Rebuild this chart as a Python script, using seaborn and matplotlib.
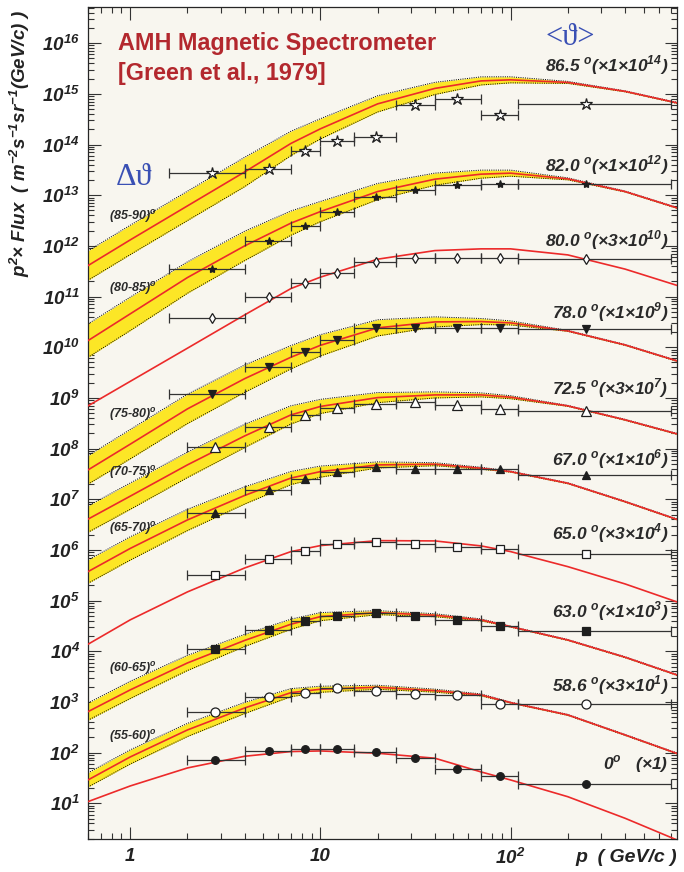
import numpy as np
import matplotlib
matplotlib.use("Agg")
import matplotlib.pyplot as plt
import matplotlib.ticker as mticker
import seaborn as sns

# measured bins (GeV/c)
p_center = [2.8, 5.4, 8.3, 12.3, 19.7, 31.6, 52.0, 88.0, 250.0]
p_low = [2.0, 4.0, 7.0, 10.0, 15.0, 25.0, 40.0, 70.0, 110.0]
p_high = [4.0, 7.0, 10.0, 15.0, 25.0, 40.0, 70.0, 110.0, 700.0]
# most inclined angles: first bin starts lower
p_center_incl = [2.7, 5.4, 8.3, 12.3, 19.7, 31.6, 52.0, 88.0, 250.0]
p_low_incl = [1.6, 4.0, 7.0, 10.0, 15.0, 25.0, 40.0, 70.0, 110.0]

# p^2 x flux, unscaled
flux_865 = [0.275, 0.331, 0.759, 1.175, 1.38, 6.03, 7.94, 3.76, 6.31]
flux_820 = [0.352, 1.25, 2.48, 4.68, 9.18, 12.9, 15.8, 16.5, 16.7]
flux_800 = [1.25, 3.24, 6.21, 9.62, 15.9, 18.8, 19.1, 19.1, 18.5]
flux_780 = [1.18, 4.15, 8.20, 13.9, 23.7, 23.7, 23.7, 23.7, 22.6]
flux_725 = [3.65, 8.79, 15.6, 20.8, 25.3, 28.1, 24.2, 20.1, 18.6]
flux_670 = [5.37, 15.1, 24.8, 34.1, 44.1, 39.8, 39.3, 39.3, 30.2]
flux_650 = [10.5, 21.8, 32.4, 43.2, 48.6, 43.8, 38.8, 35.5, 27.4]
flux_630 = [11.1, 26.4, 39.8, 50.6, 57.9, 50.6, 41.6, 32.1, 25.1]
flux_586 = [21.5, 42.5, 50.9, 64.0, 55.7, 46.9, 45.8, 30.1, 30.4]
flux_000 = [71.6, 108.0, 117.5, 119.0, 104.7, 77.6, 47.0, 35.2, 23.8]

# model prediction, read at these momenta
p_model = [0.6, 1, 2, 4, 7, 10, 20, 40, 70, 100, 200, 400, 750]
model_865 = [0.00408, 0.0131, 0.0615, 0.288, 1.05, 2.04, 6.34, 12.8, 18.0, 18.9, 16.8, 11.2, 6.64]
model_820 = [0.0135, 0.0455, 0.237, 1.0, 2.81, 4.75, 11.8, 20.7, 26.0, 27.2, 21.0, 11.8, 5.62]
model_800 = [0.0232, 0.0706, 0.319, 1.45, 4.79, 8.04, 18.2, 26.9, 29.1, 29.1, 22.1, 11.6, 5.53]
model_780 = [0.0379, 0.122, 0.607, 2.40, 6.35, 10.9, 24.1, 31.6, 32.1, 30.2, 21.0, 11.1, 5.37]
model_725 = [0.135, 0.383, 1.59, 5.93, 15.4, 22.6, 33.8, 38.2, 38.2, 34.4, 23.2, 12.3, 6.50]
model_670 = [0.373, 1.07, 3.91, 11.9, 26.2, 35.1, 47.6, 49.2, 40.9, 35.1, 20.7, 8.97, 4.0]
model_650 = [0.459, 1.39, 4.95, 14.7, 30.9, 40.6, 50.9, 50.2, 40.0, 30.9, 15.6, 7.11, 3.14]
model_630 = [0.644, 1.73, 5.89, 16.4, 34.2, 48.3, 57.9, 51.5, 41.6, 30.7, 16.7, 7.64, 3.41]
model_586 = [0.964, 2.74, 9.35, 25.4, 50.9, 59.4, 65.0, 55.7, 45.9, 32.4, 18.5, 7.45, 3.21]
model_000 = [10.8, 22.0, 49.9, 84.9, 105.0, 108.0, 97.3, 77.6, 41.6, 28.9, 13.5, 5.07, 1.89]

# half width of the angular-bin band (decades)
band_865 = [0.29, 0.29, 0.29, 0.29, 0.24, 0.20, 0.16, 0.12, 0.08, 0.06, 0.02, 0.01, 0.01]
band_820 = [0.33, 0.33, 0.31, 0.29, 0.24, 0.20, 0.16, 0.12, 0.08, 0.06, 0.02, 0.01, 0.01]
band_780 = [0.28, 0.29, 0.29, 0.27, 0.23, 0.21, 0.16, 0.10, 0.06, 0.04, 0.01, 0.01, 0.01]
band_725 = [0.26, 0.26, 0.25, 0.23, 0.18, 0.14, 0.10, 0.06, 0.04, 0.03, 0.01, 0.01, 0.01]
band_670 = [0.23, 0.23, 0.21, 0.17, 0.13, 0.11, 0.06, 0.03, 0.02, 0.01, 0.01, 0.01, 0.01]
band_630 = [0.17, 0.17, 0.15, 0.12, 0.10, 0.08, 0.04, 0.03, 0.02, 0.01, 0.01, 0.01, 0.01]
band_586 = [0.14, 0.14, 0.13, 0.11, 0.08, 0.06, 0.04, 0.03, 0.02, 0.01, 0.01, 0.01, 0.01]

angles = ["86.5", "82.0", "80.0", "78.0", "72.5", "67.0", "65.0", "63.0", "58.6", "0"]
scale_mant = [1, 1, 3, 1, 3, 1, 3, 1, 3, 1]
scale_exp = [14, 12, 10, 9, 7, 6, 4, 3, 1, 0]
bin_labels = ["(85-90)", "(80-85)", None, "(75-80)", "(70-75)", "(65-70)", None, "(60-65)", "(55-60)", None]

fluxes = [flux_865, flux_820, flux_800, flux_780, flux_725, flux_670, flux_650, flux_630, flux_586, flux_000]
models = [model_865, model_820, model_800, model_780, model_725, model_670, model_650, model_630, model_586, model_000]
bands = [band_865, band_820, None, band_780, band_725, band_670, None, band_630, band_586, None]

# marker, size, filled
markers = [("*", 9, False), ("*", 6, True), ("d", 5.5, False), ("v", 5.5, True), ("^", 6.5, False),
           ("^", 5.5, True), ("s", 6, False), ("s", 6, True), ("o", 6.5, False), ("o", 5.5, True)]
# label positions (axes fraction)
angle_label_y = [0.931, 0.810, 0.720, 0.634, 0.542, 0.457, 0.368, 0.274, 0.185, 0.090]
bin_label_y = [0.748, 0.662, None, 0.510, 0.441, 0.374, None, 0.205, 0.123, None]

sns.set_style("ticks")
plt.rcParams["font.family"] = ["Liberation Sans", "DejaVu Sans"]
plt.rcParams["font.weight"] = "bold"
plt.rcParams["font.style"] = "italic"
plt.rcParams["axes.linewidth"] = 0.9

red = "#EC2A2A"
yellow = "#FCE626"
ink = "#1E1E1E"

fig = plt.figure(figsize=(6.84, 8.72), dpi=100)
ax = fig.add_axes([88 / 684, 1 - 839.3 / 872, 589 / 684, 832 / 872])
ax.set_facecolor("#F8F6EF")
ax.set_xscale("log")
ax.set_yscale("log")

for i in range(len(angles)):
    scale = scale_mant[i] * 10.0 ** scale_exp[i]
    model = np.array(models[i]) * scale
    if bands[i] is not None:
        w = 10.0 ** np.array(bands[i])
        ax.fill_between(p_model, model / w, model * w, color=yellow, lw=0, zorder=1)
        ax.plot(p_model, model * w, color="black", ls=(0, (1, 1.3)), lw=0.7, zorder=2)
        ax.plot(p_model, model / w, color="black", ls=(0, (1, 1.3)), lw=0.7, zorder=2)
    sns.lineplot(x=p_model, y=model, ax=ax, color=red, lw=1.2, zorder=3,
                 estimator=None, sort=False)

    if i < 4:
        pc, lo = np.array(p_center_incl), np.array(p_low_incl)
    else:
        pc, lo = np.array(p_center), np.array(p_low)
    hi = np.array(p_high)
    m, ms, filled = markers[i]
    ax.errorbar(pc, np.array(fluxes[i]) * scale, xerr=[pc - lo, hi - pc], fmt=m, ms=ms,
                mfc=ink if filled else "white", mec=ink, mew=0.9, ecolor="#333333",
                elinewidth=0.9, capsize=3.5, capthick=0.9, zorder=4)

    if scale_exp[i] > 0:
        txt = (angles[i] + r" $^{\mathdefault{o}}$(×" + str(scale_mant[i]) + "×10"
               + r"$^{\mathdefault{" + str(scale_exp[i]) + r"}}$)")
    else:
        txt = r"0$^{\mathdefault{o}}$   (×1)"
    ax.text(0.985, angle_label_y[i], txt, transform=ax.transAxes, ha="right", va="center",
            fontsize=12.5, color="#2A2A2A", zorder=5)
    if bin_labels[i] is not None:
        ax.text(0.036, bin_label_y[i], bin_labels[i] + r"$^{\mathdefault{o}}$", transform=ax.transAxes,
                ha="left", va="center", fontsize=9, color="#2A2A2A", zorder=5)

ax.set_xlim(0.6, 750)
ax.set_ylim(1.95, 5.1e16)

ax.xaxis.set_major_locator(mticker.FixedLocator([1, 10, 100]))
ax.xaxis.set_minor_locator(mticker.LogLocator(10, subs=np.arange(2, 10), numticks=20))
ax.xaxis.set_minor_formatter(mticker.NullFormatter())
ax.xaxis.set_major_formatter(mticker.FixedFormatter(["1", "10", r"$\mathdefault{10^{2}}$"]))
ax.yaxis.set_major_locator(mticker.FixedLocator([10.0 ** k for k in range(1, 17)]))
ax.yaxis.set_minor_locator(mticker.LogLocator(10, subs=np.arange(2, 10), numticks=30))
ax.yaxis.set_minor_formatter(mticker.NullFormatter())
ax.yaxis.set_major_formatter(mticker.LogFormatterMathtext())
ax.tick_params(which="both", direction="in", top=True, right=True, width=0.8, colors="#333333",
               labelcolor="#222222")
ax.tick_params(which="major", length=9, labelsize=13.5, pad=6)
ax.tick_params(which="minor", length=4.5)
ax.grid(False)

ax.text(1.0, -0.022, "p  ( GeV/c )", transform=ax.transAxes, ha="right", va="center",
        fontsize=14, color="#222222")
fig.text(20 / 684, 1 - 10 / 872,
         r"$\mathdefault{p^{2}}$× Flux  ( $\mathdefault{m^{-2}s^{-1}sr^{-1}}$(GeV/c) )",
         rotation=90, ha="center", va="top", fontsize=13.5, color="#222222")

ax.text(0.051, 0.957, "AMH Magnetic Spectrometer", transform=ax.transAxes, ha="left",
        va="center", fontsize=16.8, fontstyle="normal", color="#B3282E")
ax.text(0.051, 0.921, "[Green et al., 1979]", transform=ax.transAxes, ha="left",
        va="center", fontsize=16.8, fontstyle="normal", color="#B3282E")
ax.text(0.818, 0.964, "<ϑ>", transform=ax.transAxes, ha="center", va="center", fontsize=22,
        family=["Liberation Serif", "DejaVu Serif"], fontstyle="normal", fontweight="normal",
        color="#3A50B4")
ax.text(0.078, 0.795, "Δϑ", transform=ax.transAxes, ha="center", va="center", fontsize=23,
        family=["Liberation Serif", "DejaVu Serif"], fontstyle="normal", fontweight="normal",
        color="#3A50B4")

fig.savefig("out.png", dpi=100, facecolor="white")
